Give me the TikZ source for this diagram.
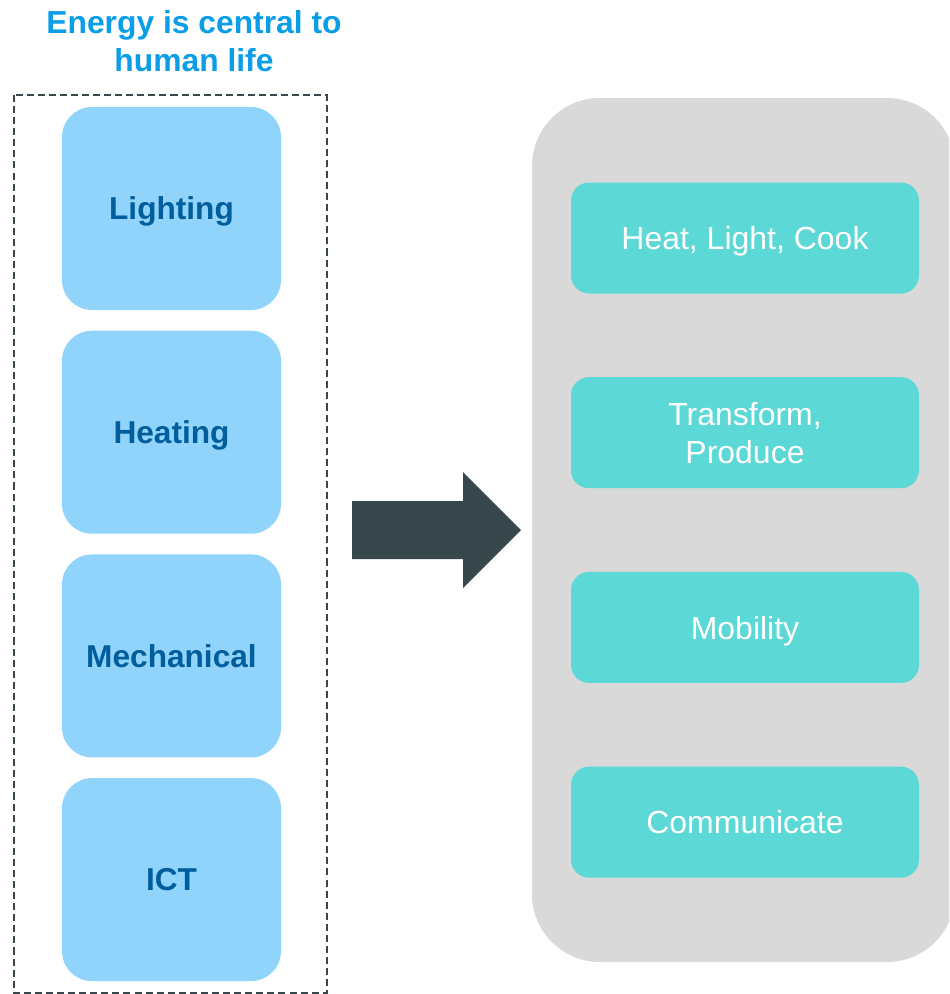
\documentclass[tikz,border=0pt]{standalone}
\usepackage{fontspec}
\setmainfont{Liberation Sans}
\usetikzlibrary{positioning}
\definecolor{titleblue}{RGB}{10,157,232}
\definecolor{usefill}{RGB}{144,212,252}
\definecolor{usetext}{RGB}{0,94,156}
\definecolor{servfill}{RGB}{92,216,214}
\definecolor{panelgrey}{RGB}{217,217,217}
\definecolor{arrowdark}{RGB}{55,71,75}

\begin{document}
\begin{tikzpicture}[
    node distance=0.4cm,
    use/.style={rectangle, fill=usefill, minimum width=4.38cm, minimum height=4.06cm, rounded corners=0.6cm, text depth=0pt, text=usetext, font=\fontsize{18}{21}\selectfont\bfseries},
    service/.style={rectangle, fill=servfill, minimum width=6.96cm, minimum height=2.22cm, rounded corners=0.36cm, text depth=0pt, text=white, align=center, font=\fontsize{18.2}{21.6}\selectfont}
]
\useasboundingbox (0,0) rectangle (18.98,-19.88);
\clip (0,0) rectangle (18.98,-19.88);

% title and dashed frame on the left
\node[align=center, text=titleblue, font=\fontsize{18.1}{21.6}\selectfont\bfseries] (title) at (3.88,-0.82) {Energy is central to\\human life};
\draw[arrowdark, line width=1.1pt, dash pattern=on 4pt off 2.3pt] (0.28,-1.9) rectangle (6.54,-19.86);

\node[use] (lighting) at (3.43,-4.17) {Lighting};
\node[use, below=of lighting] (heating) {Heating};
\node[use, below=of heating] (mechanical) {Mechanical};
\node[use, below=of mechanical] (ict) {ICT};

% grey panel with the services
\fill[panelgrey, rounded corners=1.36cm] (10.64,-1.96) rectangle (19.1,-19.24);

\node[service] (heat) at (14.9,-4.76) {Heat, Light, Cook};
\node[service, below=1.66cm of heat] (transform) {Transform,\\Produce};
\node[service, below=1.66cm of transform] (mobility) {Mobility};
\node[service, below=1.66cm of mobility] (communicate) {Communicate};

% block arrow
\fill[arrowdark] (7.04,-10.02) -- (9.26,-10.02) -- (9.26,-9.44) -- (10.42,-10.6)
    -- (9.26,-11.76) -- (9.26,-11.18) -- (7.04,-11.18) -- cycle;

\end{tikzpicture}
\end{document}
